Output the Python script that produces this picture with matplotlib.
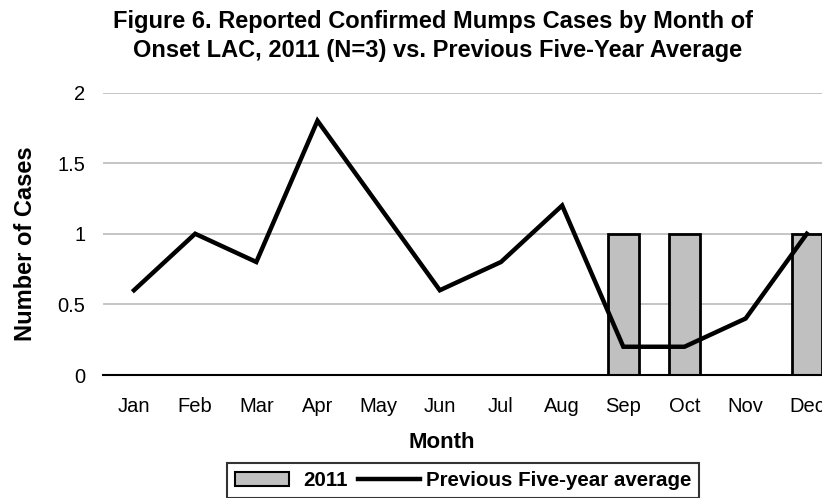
import matplotlib
matplotlib.use("Agg")
import matplotlib.pyplot as plt
from matplotlib.patches import Patch, Rectangle
from matplotlib.lines import Line2D
from matplotlib.legend_handler import HandlerPatch

months = ["Jan", "Feb", "Mar", "Apr", "May", "Jun", "Jul", "Aug", "Sep", "Oct", "Nov", "Dec"]
cases_2011 = [0, 0, 0, 0, 0, 0, 0, 0, 1, 1, 0, 1]
five_year_avg = [0.6, 1.0, 0.8, 1.8, 1.2, 0.6, 0.8, 1.2, 0.2, 0.2, 0.4, 1.0]
y_ticks = [0, 0.5, 1, 1.5, 2]
y_tick_labels = ["0", "0.5", "1", "1.5", "2"]

plt.rcParams["font.family"] = ["Liberation Sans", "DejaVu Sans"]

W, H = 822, 498
fig = plt.figure(figsize=(W / 100, H / 100), dpi=100)
# plot area runs past the right edge of the picture, as in the reference
ax = fig.add_axes([103.4 / W, (H - 375) / H, 734 / W, 282.5 / H])

x = range(len(months))
ax.bar(x, cases_2011, width=0.5, color="#c0c0c0", edgecolor="black", linewidth=2, zorder=2)
ax.plot(x, five_year_avg, color="black", linewidth=3.2, zorder=3, solid_joinstyle="miter")

ax.set_xlim(-0.5, len(months) - 0.5)
ax.set_ylim(0, 2)
ax.set_yticks(y_ticks)
ax.set_yticklabels(y_tick_labels)
ax.set_xticks(list(x))
ax.set_xticklabels(months)
ax.tick_params(axis="both", length=0, labelsize=14.5)
ax.tick_params(axis="y", pad=13)
ax.tick_params(axis="x", pad=16)
ax.grid(axis="y", color="#c0c0c0", linewidth=1.3, zorder=0)
ax.set_axisbelow(True)
for side in ["top", "right", "left"]:
    ax.spines[side].set_visible(False)
ax.spines["bottom"].set_linewidth(1.5)
ax.spines["bottom"].set_zorder(4)

fig.text(433 / W, 1 - 28 / H, "Figure 6. Reported Confirmed Mumps Cases by Month of",
         ha="center", va="baseline", fontsize=17, fontweight="bold")
fig.text(438 / W, 1 - 57 / H, "Onset LAC, 2011 (N=3) vs. Previous Five-Year Average",
         ha="center", va="baseline", fontsize=17, fontweight="bold")
fig.text(25 / W, 1 - 244 / H, "Number of Cases", rotation=90, ha="center", va="center",
         fontsize=17, fontweight="bold")
fig.text(442 / W, 1 - 448 / H, "Month", ha="center", va="baseline", fontsize=16, fontweight="bold")


def narrow_box(legend, orig_handle, xdescent, ydescent, width, height, fontsize):
    # the filled box in the key is a little shorter than the line key
    return Rectangle((-xdescent, -ydescent), width - 6, height)


handles = [Patch(facecolor="#c0c0c0", edgecolor="black", linewidth=1.5),
           Line2D([0], [0], color="black", linewidth=3.2)]
leg = fig.legend(handles, ["2011", "Previous Five-year average"], loc="upper left",
                 bbox_to_anchor=(227 / W, 1 - 463 / H), ncol=2, frameon=True,
                 prop={"size": 14.8, "weight": "bold"}, handlelength=3.0, handletextpad=0.3,
                 columnspacing=0.5, borderpad=0.4, borderaxespad=0, fancybox=False,
                 handler_map={Patch: HandlerPatch(patch_func=narrow_box)})
leg.get_frame().set_edgecolor("black")
leg.get_frame().set_linewidth(1.5)

fig.savefig("out.png", dpi=100)
